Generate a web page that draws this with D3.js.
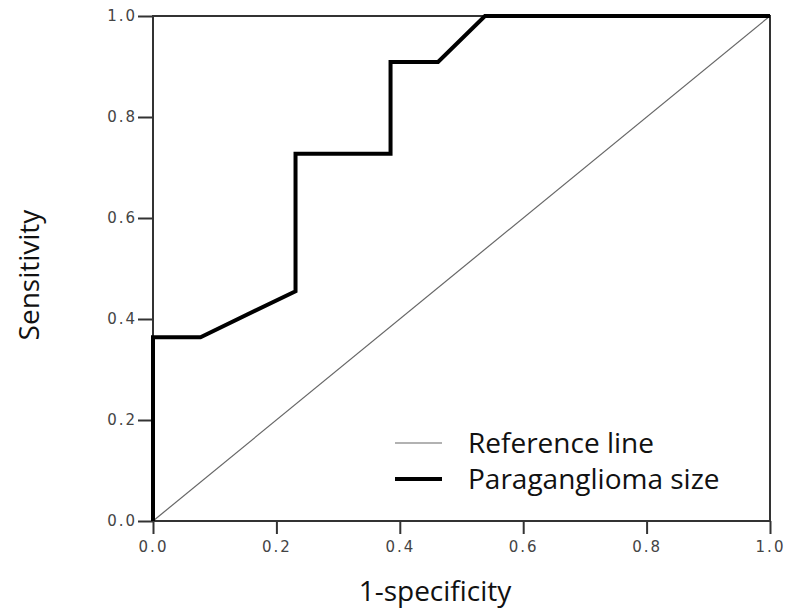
<!DOCTYPE html>
<html>
<head>
<meta charset="utf-8">
<script src="https://cdn.jsdelivr.net/npm/d3@7"></script>
<style>
  body { margin: 0; background: #fff; }
  svg { display: block; }
  .title, .legend text { font-family: "Open Sans", sans-serif; fill: #111; }
</style>
</head>
<body>
<div id="chart"></div>
<script>
// ROC curve points (1-specificity, sensitivity)
const fpr = [0, 0, 0.077, 0.231, 0.231, 0.385, 0.385, 0.462, 0.538, 1.0];
const tpr = [0, 0.364, 0.364, 0.455, 0.727, 0.727, 0.909, 0.909, 1.0, 1.0];
const refLine = [0, 1];
const ticks = [0, 0.2, 0.4, 0.6, 0.8, 1.0];
const legendLabels = ['Reference line', 'Paraganglioma size'];

const width = 789;
const height = 611;
const margin = { top: 16, right: 19, bottom: 90, left: 153 };

const svg = d3.select('#chart').append('svg')
  .attr('width', width)
  .attr('height', height);

const x = d3.scaleLinear().domain([0, 1]).range([margin.left, width - margin.right]);
const y = d3.scaleLinear().domain([0, 1]).range([height - margin.bottom, margin.top]);

const fmt = d3.format('.1f');

// axes
const gx = svg.append('g')
  .attr('transform', `translate(0,${y(0)})`)
  .call(d3.axisBottom(x).tickValues(ticks).tickFormat(fmt).tickSize(13).tickPadding(7));
const gy = svg.append('g')
  .attr('transform', `translate(${x(0)},0)`)
  .call(d3.axisLeft(y).tickValues(ticks).tickFormat(fmt).tickSize(15).tickPadding(1));

[gx, gy].forEach(g => {
  g.select('.domain').remove();
  g.selectAll('.tick line').attr('stroke', '#333').attr('stroke-width', 2);
  g.selectAll('.tick text')
    .attr('font-family', '"DejaVu Sans", sans-serif')
    .attr('font-size', 15)
    .attr('letter-spacing', 2)
    .attr('fill', '#444');
});

// plot frame
svg.append('rect')
  .attr('x', x(0))
  .attr('y', y(1))
  .attr('width', x(1) - x(0))
  .attr('height', y(0) - y(1))
  .attr('fill', 'none')
  .attr('stroke', '#333')
  .attr('stroke-width', 2);

// reference diagonal
svg.append('line')
  .attr('x1', x(refLine[0])).attr('y1', y(refLine[0]))
  .attr('x2', x(refLine[1])).attr('y2', y(refLine[1]))
  .attr('stroke', '#666')
  .attr('stroke-width', 1.2);

// ROC curve
const line = d3.line()
  .x(i => x(fpr[i]))
  .y(i => y(tpr[i]));

svg.append('path')
  .datum(d3.range(fpr.length))
  .attr('d', line)
  .attr('fill', 'none')
  .attr('stroke', '#000')
  .attr('stroke-width', 4)
  .attr('stroke-linejoin', 'miter');

// axis titles
svg.append('text')
  .attr('class', 'title')
  .attr('x', 435)
  .attr('y', 601)
  .attr('text-anchor', 'middle')
  .attr('font-size', 28)
  .text('1-specificity');

svg.append('text')
  .attr('class', 'title')
  .attr('transform', 'translate(39,275) rotate(-90)')
  .attr('text-anchor', 'middle')
  .attr('font-size', 28)
  .text('Sensitivity');

// legend
const legend = svg.append('g').attr('class', 'legend');
const legendY = [443, 479];
const legendW = [1.2, 4];
const legendC = ['#666', '#000'];
legendLabels.forEach((label, i) => {
  legend.append('line')
    .attr('x1', 395).attr('x2', 442)
    .attr('y1', legendY[i]).attr('y2', legendY[i])
    .attr('stroke', legendC[i])
    .attr('stroke-width', legendW[i]);
  legend.append('text')
    .attr('x', 468)
    .attr('y', legendY[i] + 10)
    .attr('font-size', 28)
    .text(label);
});
</script>
</body>
</html>
